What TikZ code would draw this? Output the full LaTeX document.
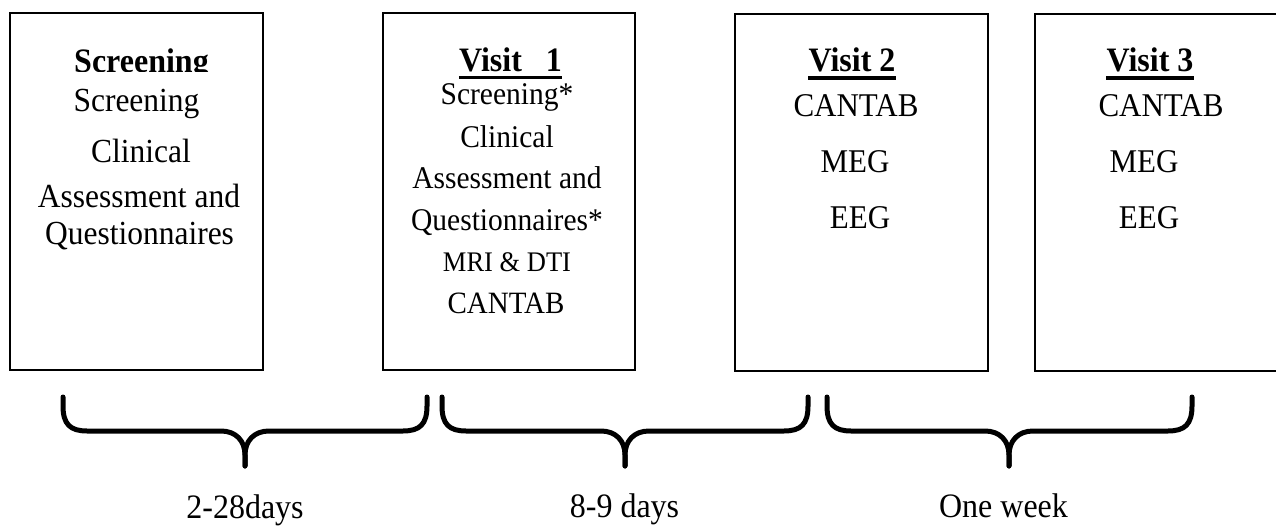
\documentclass[tikz,border=0pt]{standalone}
\usepackage{graphicx}
\usepackage{fontspec}
\setmainfont{Liberation Serif}
\newcommand{\vst}[1]{\scalebox{1}[1.07]{#1}}
\begin{document}
\begin{tikzpicture}[x=1pt,y=-1pt,
  boxstyle/.style={draw=black,line width=1.6pt,rectangle,inner sep=0pt},
  txt/.style={inner sep=0pt,anchor=base,font=\fontsize{#1}{#1}\selectfont},
  ttl/.style={inner sep=0pt,anchor=base,font=\fontsize{32}{32}\selectfont\bfseries},
  uline/.style={line width=3.4pt},
  bracestyle/.style={line width=5pt,line cap=round,line join=round}
]
\useasboundingbox (0,0) rectangle (1276,526);
% boxes
\node[boxstyle,minimum width=253pt,minimum height=357pt] (b1) at (136.5,191.5) {};
\node[boxstyle,minimum width=252pt,minimum height=357pt] (b2) at (509,191.5) {};
\node[boxstyle,minimum width=253pt,minimum height=357pt] (b3) at (861.5,192.5) {};
\node[boxstyle,minimum width=265pt,minimum height=357pt] (b4) at (1167.5,192.5) {};
% box 1
\begin{scope}
\clip (40,30) rectangle (240,72);
\node[ttl] (s0) at (141.5,73) {\vst{Screening}};
\end{scope}
\node[txt=31.5] (s1) at (136.5,112) {\vst{Screening}};
\node[txt=31.5] (s2) at (141,163) {\vst{Clinical}};
\node[txt=31.5] (s3) at (139,208) {\vst{Assessment and}};
\node[txt=31.5] (s4) at (139.5,245) {\vst{Questionnaires}};
% box 2
\node[ttl] (v1) at (510.5,72) {\vst{Visit\ \ \ 1}};
\draw[uline] ([yshift=-5.5pt]v1.base west) -- ([yshift=-5.5pt]v1.base east);
\node[txt=29.5] (v1a) at (507,105) {\vst{Screening*}};
\node[txt=29.5] (v1b) at (507,148) {\vst{Clinical}};
\node[txt=29.5] (v1c) at (507,189) {\vst{Assessment and}};
\node[txt=29.5] (v1d) at (507,231) {\vst{Questionnaires*}};
\node[txt=26.5] (v1e) at (507,272) {\vst{MRI \& DTI}};
\node[txt=29] (v1f) at (506,313) {\vst{CANTAB}};
% box 3
\node[ttl] (v2) at (852,72) {\vst{Visit 2}};
\draw[uline] ([yshift=-6pt]v2.base west) -- ([yshift=-6pt]v2.base east);
\node[txt=31] (v2a) at (856,117) {\vst{CANTAB}};
\node[txt=31] (v2b) at (855,173) {\vst{MEG}};
\node[txt=31] (v2c) at (860,229) {\vst{EEG}};
% box 4
\node[ttl] (v3) at (1150,72) {\vst{Visit 3}};
\draw[uline] ([yshift=-6pt]v3.base west) -- ([yshift=-6pt]v3.base east);
\node[txt=31] (v3a) at (1161,117) {\vst{CANTAB}};
\node[txt=31] (v3b) at (1144,173) {\vst{MEG}};
\node[txt=31] (v3c) at (1149,229) {\vst{EEG}};
% braces
\foreach \L/\T/\R in {63/245/427, 442/625/808, 827/1009/1192}{
  \draw[bracestyle] (\L,397) -- (\L,406) .. controls (\L,424) and (\L+7,431) .. (\L+24,431)
     -- (\T-24,431) .. controls (\T-9,431) and (\T,441) .. (\T,455) -- (\T,466);
  \draw[bracestyle] (\R,397) -- (\R,406) .. controls (\R,424) and (\R-7,431) .. (\R-24,431)
     -- (\T+24,431) .. controls (\T+9,431) and (\T,441) .. (\T,455) -- (\T,466);
}
% labels
\node[txt=32] (l1) at (245,518) {\vst{2-28days}};
\node[txt=32] (l2) at (624.5,517) {\vst{8-9 days}};
\node[txt=32] (l3) at (1003.5,517) {\vst{One week}};
\end{tikzpicture}
\end{document}
